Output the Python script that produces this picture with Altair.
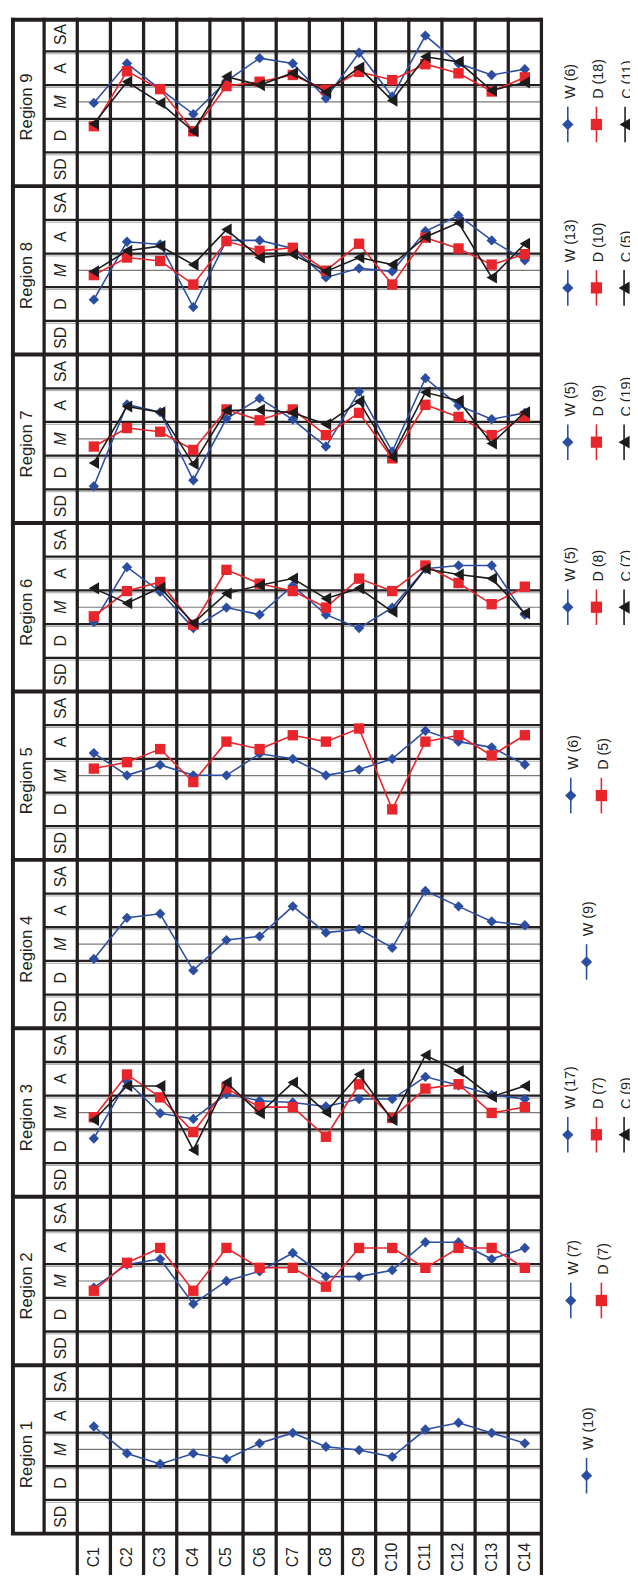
import altair as alt
import pandas as pd

# ---------------- data ----------------
CATS = ["C1", "C2", "C3", "C4", "C5", "C6", "C7", "C8", "C9", "C10", "C11", "C12", "C13", "C14"]
SCALE = ["SD", "D", "M", "A", "SA"]
GROUPS = ["W", "D", "C"]

R1_W = [3.68, 2.88, 2.57, 2.88, 2.71, 3.18, 3.49, 3.08, 2.98, 2.78, 3.59, 3.79, 3.49, 3.18]
R2_W = [2.80, 3.49, 3.65, 2.32, 3.00, 3.29, 3.83, 3.13, 3.13, 3.32, 4.15, 4.15, 3.65, 3.98]
R2_D = [2.71, 3.54, 3.98, 2.71, 3.98, 3.39, 3.39, 2.83, 3.98, 3.98, 3.39, 3.98, 3.98, 3.39]
R3_W = [2.23, 3.92, 2.98, 2.81, 3.55, 3.35, 3.30, 3.18, 3.40, 3.40, 4.06, 3.81, 3.53, 3.40]
R3_D = [2.86, 4.13, 3.45, 2.42, 3.72, 3.16, 3.16, 2.28, 3.84, 2.84, 3.71, 3.84, 2.99, 3.16]
R3_C = [2.78, 3.79, 3.79, 1.89, 3.89, 2.98, 3.89, 3.01, 4.13, 2.78, 4.70, 4.23, 3.47, 3.79]
R4_W = [2.56, 3.78, 3.90, 2.22, 3.12, 3.23, 4.12, 3.34, 3.44, 2.89, 4.58, 4.12, 3.67, 3.56]
R5_W = [3.67, 3.01, 3.32, 3.01, 3.01, 3.65, 3.50, 3.01, 3.18, 3.50, 4.33, 4.01, 3.84, 3.33]
R5_D = [3.21, 3.40, 3.79, 2.81, 4.01, 3.79, 4.20, 4.01, 4.40, 2.00, 4.01, 4.20, 3.60, 4.20]
R6_W = [2.56, 4.19, 3.46, 2.38, 2.99, 2.78, 3.64, 2.78, 2.38, 2.99, 4.14, 4.24, 4.24, 2.78]
R6_D = [2.73, 3.48, 3.75, 2.48, 4.11, 3.70, 3.48, 2.99, 3.85, 3.48, 4.24, 3.72, 3.09, 3.61]
R6_C = [3.56, 3.12, 3.58, 2.53, 3.41, 3.65, 3.85, 3.26, 3.56, 2.87, 4.14, 3.97, 3.85, 2.82]
R7_W = [1.59, 4.02, 3.79, 1.77, 3.60, 4.20, 3.57, 2.77, 4.40, 2.62, 4.80, 3.99, 3.58, 3.77]
R7_D = [2.77, 3.32, 3.21, 2.67, 3.87, 3.55, 3.87, 3.11, 3.77, 2.42, 4.01, 3.65, 3.11, 3.66]
R7_C = [2.28, 3.96, 3.79, 2.25, 3.84, 3.86, 3.77, 3.43, 4.11, 2.47, 4.38, 4.13, 2.86, 3.79]
R8_W = [2.13, 3.85, 3.77, 1.91, 3.89, 3.89, 3.65, 2.79, 3.06, 2.97, 4.16, 4.63, 3.89, 3.30]
R8_D = [2.86, 3.38, 3.28, 2.58, 3.87, 3.58, 3.67, 2.99, 3.79, 2.58, 3.97, 3.65, 3.17, 3.48]
R8_C = [2.97, 3.58, 3.72, 3.17, 4.21, 3.38, 3.48, 2.97, 3.38, 3.17, 3.99, 4.41, 2.79, 3.79]
R9_W = [2.97, 4.14, 3.38, 2.64, 3.62, 4.30, 4.14, 3.11, 4.46, 3.16, 4.97, 4.14, 3.80, 3.97]
R9_D = [2.28, 3.91, 3.38, 2.13, 3.47, 3.60, 3.80, 3.36, 3.89, 3.65, 4.12, 3.85, 3.31, 3.73]
R9_C = [2.35, 3.60, 2.97, 2.13, 3.75, 3.50, 3.86, 3.29, 4.02, 3.04, 4.34, 4.19, 3.34, 3.58]

# legend counts (n per group) for each region
R1_N = {"W": 10}
R2_N = {"W": 7, "D": 7}
R3_N = {"W": 17, "D": 7, "C": 9}
R4_N = {"W": 9}
R5_N = {"W": 6, "D": 5}
R6_N = {"W": 5, "D": 8, "C": 7}
R7_N = {"W": 5, "D": 9, "C": 19}
R8_N = {"W": 13, "D": 10, "C": 5}
R9_N = {"W": 6, "D": 18, "C": 11}

SERIES = {
    1: {"W": R1_W},
    2: {"W": R2_W, "D": R2_D},
    3: {"W": R3_W, "D": R3_D, "C": R3_C},
    4: {"W": R4_W},
    5: {"W": R5_W, "D": R5_D},
    6: {"W": R6_W, "D": R6_D, "C": R6_C},
    7: {"W": R7_W, "D": R7_D, "C": R7_C},
    8: {"W": R8_W, "D": R8_D, "C": R8_C},
    9: {"W": R9_W, "D": R9_D, "C": R9_C},
}
COUNTS = {1: R1_N, 2: R2_N, 3: R3_N, 4: R4_N, 5: R5_N, 6: R6_N, 7: R7_N, 8: R8_N, 9: R9_N}

# ---------------- layout / style ----------------
COLORS = {"W": "#2c4ea2", "D": "#e8252b", "C": "#1c1c1c"}
SHAPES = {"W": "diamond", "D": "square", "C": "triangle-left"}
SIZES = {"W": 110, "D": 110, "C": 150}
INK = "#231f20"
FONT = "Liberation Sans"

PX_COL = 33.58   # pixels per column unit
PX_ROW = 34.12   # pixels per rating unit
W_PX, H_PX = 630, 1577
XMIN = -1.5 - 3 / PX_COL
XMAX = XMIN + W_PX / PX_COL
YMAX = 45.5 - 0.3 / PX_ROW
YMIN = YMAX - H_PX / PX_ROW

# legend placement (page pixels for x, rating value for marker)
LEG_X = {1: [594], 2: [578, 609], 3: [575, 604, 632], 4: [594], 5: [578, 609],
         6: [575, 604, 632], 7: [575, 604, 632], 8: [575, 604, 632], 9: [575, 604, 633]}
LEG_V = {1: 2.22, 2: 2.42, 3: 2.34, 4: 2.47, 5: 2.41, 6: 3.0, 7: 2.9, 8: 2.48, 9: 2.33}


def px_to_x(px):
    return -1.5 + (px - 11) / PX_COL


xs = alt.Scale(domain=[XMIN, XMAX], nice=False, zero=False)
ys = alt.Scale(domain=[YMIN, YMAX], nice=False, zero=False)


def enc_rule(ch):
    return ch.encode(
        x=alt.X("x1:Q", scale=xs, axis=None), x2="x2:Q",
        y=alt.Y("y1:Q", scale=ys, axis=None), y2="y2:Q",
    )


# ---------------- series table ----------------
rows = []
for r, groups in SERIES.items():
    for g, vals in groups.items():
        for i, v in enumerate(vals):
            rows.append({"region": r, "group": g, "cat": CATS[i], "i": i + 1,
                         "v": v, "Y": (r - 1) * 5 + v, "key": f"{r}-{g}"})
series_df = pd.DataFrame(rows)

# ---------------- grid tables ----------------
ncol = len(CATS)
vcols = pd.DataFrame([{"x1": k + 0.5, "x2": k + 0.5, "y1": YMIN, "y2": 45.5} for k in range(ncol + 1)])
vhead = pd.DataFrame([{"x1": -0.5, "x2": -0.5, "y1": 0.5, "y2": 45.5}])
vouter = pd.DataFrame([{"x1": -1.5 + 2 / PX_COL, "x2": -1.5 + 2 / PX_COL, "y1": 0.5, "y2": 45.5}])
nreg = len(SERIES)
rowlines = pd.DataFrame([{"x1": -0.5, "x2": ncol + 0.5, "y1": (r - 1) * 5 + b, "y2": (r - 1) * 5 + b}
                         for r in range(1, nreg + 1) for b in (1.5, 2.5, 3.5, 4.5)])
greylines = rowlines.assign(y1=rowlines.y1 - 2.4 / PX_ROW, y2=rowlines.y2 - 2.4 / PX_ROW)
seps = pd.DataFrame([{"x1": -1.5, "x2": ncol + 0.5, "y1": 5 * k + 0.5, "y2": 5 * k + 0.5}
                     for k in range(nreg)] +
                    [{"x1": -1.5, "x2": ncol + 0.5, "y1": 45.5 - 2 / PX_ROW, "y2": 45.5 - 2 / PX_ROW}])
mlines = pd.DataFrame([{"x1": 0.5, "x2": ncol + 0.5, "y1": (r - 1) * 5 + 3, "y2": (r - 1) * 5 + 3}
                       for r in range(1, nreg + 1)])

layers = []
layers.append(enc_rule(alt.Chart(mlines).mark_rule(color="#7a7a7a", strokeWidth=1.2)))
layers.append(enc_rule(alt.Chart(greylines).mark_rule(color="#a8a8a8", strokeWidth=1)))
layers.append(enc_rule(alt.Chart(rowlines).mark_rule(color=INK, strokeWidth=2.3)))
layers.append(enc_rule(alt.Chart(vcols).mark_rule(color=INK, strokeWidth=3.3)))
layers.append(enc_rule(alt.Chart(vhead).mark_rule(color=INK, strokeWidth=3.3)))
layers.append(enc_rule(alt.Chart(vouter).mark_rule(color=INK, strokeWidth=4)))
layers.append(enc_rule(alt.Chart(seps).mark_rule(color=INK, strokeWidth=4)))

# ---------------- series lines & points ----------------
for g in GROUPS:
    sub = series_df[series_df.group == g]
    layers.append(alt.Chart(sub).mark_line(color=COLORS[g], strokeWidth=1.6).encode(
        x=alt.X("i:Q", scale=xs, axis=None),
        y=alt.Y("Y:Q", scale=ys, axis=None),
        detail="key:N", order="i:Q"))
    layers.append(alt.Chart(sub).mark_point(shape=SHAPES[g], filled=True, opacity=1,
                                            color=COLORS[g], size=SIZES[g]).encode(
        x=alt.X("i:Q", scale=xs, axis=None),
        y=alt.Y("Y:Q", scale=ys, axis=None)))

# ---------------- text labels ----------------
def text_layer(df, size, align="center", style="normal"):
    return alt.Chart(df).mark_text(angle=270, align=align, baseline="middle", font=FONT,
                                   fontSize=size, color=INK, fontStyle=style).encode(
        x=alt.X("x:Q", scale=xs, axis=None),
        y=alt.Y("y:Q", scale=ys, axis=None),
        text="t:N")


reg_df = pd.DataFrame([{"x": -1, "y": (r - 1) * 5 + 2.85, "t": f"Region {r}"} for r in range(1, nreg + 1)])
scale_df = pd.DataFrame([{"x": 0, "y": (r - 1) * 5 + k + 1, "t": s}
                         for r in range(1, nreg + 1) for k, s in enumerate(SCALE) if s != "M"])
scale_m_df = pd.DataFrame([{"x": 0, "y": (r - 1) * 5 + 3, "t": "M"} for r in range(1, nreg + 1)])
cat_df = pd.DataFrame([{"x": i + 1, "y": -0.2, "t": c} for i, c in enumerate(CATS)])

layers.append(text_layer(reg_df, 17))
layers.append(text_layer(scale_df, 16))
layers.append(text_layer(scale_m_df, 16, style="italic"))
layers.append(text_layer(cat_df, 16))

# ---------------- per-region legends ----------------
leg_rows, leg_lines, leg_text = [], [], []
for r, counts in COUNTS.items():
    for j, (g, n) in enumerate(counts.items()):
        xm = px_to_x(LEG_X[r][j])
        ym = (r - 1) * 5 + LEG_V[r]
        leg_rows.append({"x": xm, "y": ym, "group": g})
        leg_lines.append({"x1": xm, "x2": xm, "y1": ym - 18 / PX_ROW, "y2": ym + 18 / PX_ROW, "group": g})
        leg_text.append({"x": xm + 3 / PX_COL, "y": ym + 26 / PX_ROW, "t": f"{g} ({n})"})
leg_pts = pd.DataFrame(leg_rows)
leg_ln = pd.DataFrame(leg_lines)

for g in GROUPS:
    ln = leg_ln[leg_ln.group == g]
    pt = leg_pts[leg_pts.group == g]
    layers.append(enc_rule(alt.Chart(ln).mark_rule(color=COLORS[g], strokeWidth=1.6)))
    layers.append(alt.Chart(pt).mark_point(shape=SHAPES[g], filled=True, opacity=1,
                                           color=COLORS[g], size=SIZES[g] + 20).encode(
        x=alt.X("x:Q", scale=xs, axis=None),
        y=alt.Y("y:Q", scale=ys, axis=None)))
layers.append(text_layer(pd.DataFrame(leg_text), 14.5, align="left"))

chart = alt.layer(*layers).properties(
    width=W_PX, height=H_PX, padding=0, autosize="none"
).configure_view(stroke=None)

chart.save("out.html", embed_options={"renderer": "svg", "actions": False})
